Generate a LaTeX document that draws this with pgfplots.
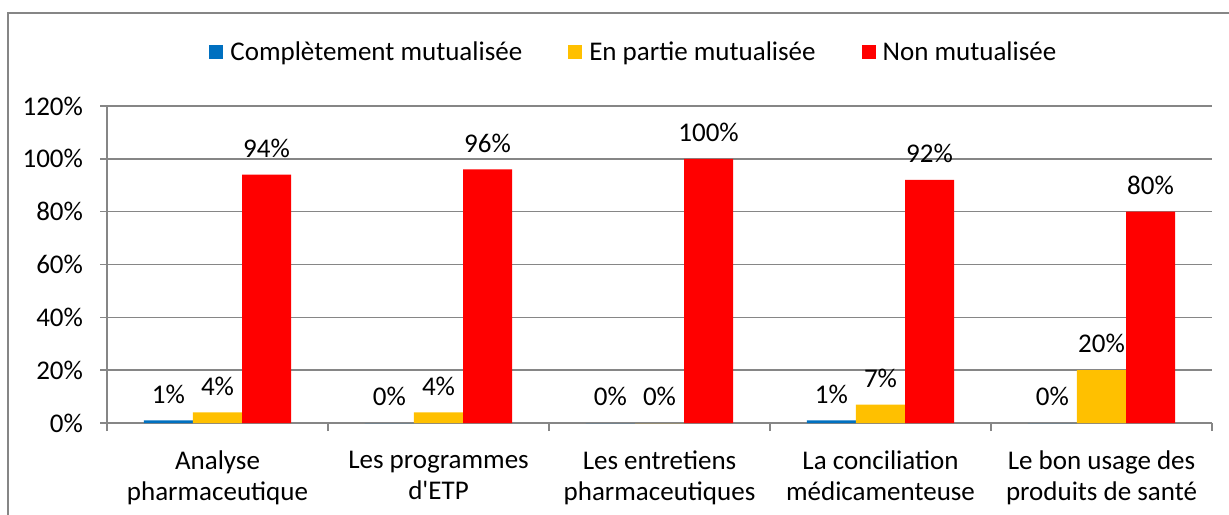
\documentclass[border=0pt]{standalone}
\usepackage{pgfplots}
\pgfplotsset{compat=1.18}
\usepackage{fontspec}
\setmainfont{Carlito}
\definecolor{cblue}{HTML}{0070C0}
\definecolor{cyellow}{HTML}{FFC000}
\definecolor{cred}{HTML}{FF0000}
\definecolor{linegray}{HTML}{868686}

\begin{document}
\begin{tikzpicture}
\path[use as bounding box, clip] (0,0) rectangle (614.5pt,257pt);
\draw[linegray, line width=1pt] (4pt,250.5pt) rectangle (630pt,-10pt);
\begin{axis}[
    at={(53.5pt,45.5pt)}, anchor=south west,
    scale only axis,
    width=552.5pt, height=158.5pt,
    font=\fontsize{13.5}{15.5}\selectfont,
    /pgf/number format/assume math mode=true,
    ybar, bar width=0.222,
    xmin=-0.5, xmax=4.5,
    ymin=0, ymax=120,
    ytick={0,20,...,120},
    yticklabel={\pgfmathprintnumber{\tick}\%},
    yticklabel style={xshift=-5pt},
    xtick={0,...,4},
    xticklabels={{Analyse\\pharmaceutique},{Les programmes\\d\textquotesingle ETP},{Les entretiens\\pharmaceutiques},{La conciliation\\médicamenteuse},{Le bon usage des\\produits de santé}},
    xticklabel style={align=center, yshift=-7pt},
    major x tick style={draw=none},
    minor xtick={-0.5,0.5,...,4.5},
    minor tick length=4pt,
    major tick length=3.5pt,
    tick align=outside,
    tick style={linegray, line width=0.75pt},
    axis x line*=bottom, axis y line*=left,
    axis line style={linegray, line width=0.75pt},
    ymajorgrids,
    grid style={linegray, line width=0.75pt},
    nodes near coords={\pgfmathprintnumber{\pgfplotspointmeta}\%},
    every node near coord/.append style={font=\fontsize{13.5}{15}\selectfont, anchor=south, yshift=5pt, black},
    legend columns=3,
    legend style={draw=none, fill=none, inner sep=0pt, anchor=west, at={(0.0923,1.169)},
        font=\fontsize{13.5}{15}\selectfont,
        /tikz/every odd column/.append style={column sep=1.5pt},
        /tikz/every even column/.append style={column sep=21pt}},
    legend image code/.code={\fill[#1] (0pt,-3.5pt) rectangle (7pt,3.5pt);},
]
\addplot[fill=cblue, draw=none, bar shift=-0.222] coordinates {(0,1) (1,0) (2,0) (3,1) (4,0)};
\addplot[fill=cyellow, draw=none, bar shift=0] coordinates {(0,4) (1,4) (2,0) (3,7) (4,20)};
\addplot[fill=cred, draw=none, bar shift=0.222] coordinates {(0,94) (1,96) (2,100) (3,92) (4,80)};
\legend{Complètement mutualisée, En partie mutualisée, Non mutualisée}
\end{axis}
\end{tikzpicture}
\end{document}
